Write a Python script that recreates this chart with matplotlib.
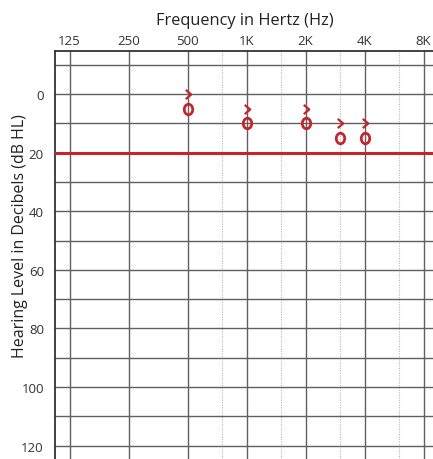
import numpy as np
import matplotlib
matplotlib.use("Agg")
import matplotlib.pyplot as plt
from matplotlib.path import Path
from matplotlib.transforms import Affine2D

# Audiogram data
tick_freqs = [125, 250, 500, 1000, 2000, 4000, 8000]
tick_labels = ["125", "250", "500", "1K", "2K", "4K", "8K"]
mid_freqs = [750, 1500, 3000, 6000]
db_ticks = [0, 20, 40, 60, 80, 100, 120]

air_freqs = [500, 1000, 2000, 3000, 4000]
air_db = [5, 10, 10, 15, 15]          # "O" symbols
bone_freqs = [500, 1000, 2000, 3000, 4000]
bone_db = [0, 5, 5, 10, 10]           # ">" symbols
normal_limit = 20

RED = "#c1272d"
GRID = "#606060"

plt.rcParams["font.family"] = ["Open Sans", "DejaVu Sans"]

W, H = 433, 460
fig = plt.figure(figsize=(W / 100, H / 100), dpi=100)
left, top = 55, 52
ax = fig.add_axes([left / W, 0, 1 - left / W, 1 - top / H])

ax.set_xscale("log", base=2)
oct_px = 59.0
x125 = 69.5
lo = np.log2(125) - (x125 - left) / oct_px
hi = np.log2(125) + (W - x125) / oct_px
ax.set_xlim(2 ** lo, 2 ** hi)

px_per_db = 2.93
y0 = 95
ax.set_ylim((H - y0) / px_per_db, -(y0 - top) / px_per_db)

# grid
for f in tick_freqs:
    ax.axvline(f, color=GRID, lw=1.0, zorder=1)
for f in mid_freqs:
    ax.axvline(f, color="#b8b8b8", lw=0.8, ls=(0, (1, 1.2)), zorder=1)
for d in range(-10, 130, 10):
    ax.axhline(d, color=GRID, lw=1.0, zorder=1)

ax.axhline(normal_limit, color=RED, lw=2.2, zorder=3)

# audiogram symbols
o_marker = Path.unit_circle().transformed(Affine2D().scale(0.8, 1.0))
chevron = Path([(-0.6, 1.0), (0.6, 0.0), (-0.6, -1.0)],
               [Path.MOVETO, Path.LINETO, Path.LINETO])
ax.plot(air_freqs, air_db, ls="none", marker=o_marker, ms=7.6,
        mfc="none", mec=RED, mew=2.0, zorder=4)
ax.plot(bone_freqs, bone_db, ls="none", marker=chevron, ms=6.6,
        mfc="none", mec=RED, mew=1.6, zorder=4)

ax.set_xticks(tick_freqs)
ax.set_xticklabels(tick_labels)
ax.xaxis.set_minor_locator(matplotlib.ticker.NullLocator())
ax.xaxis.tick_top()
ax.set_yticks(db_ticks)
ax.tick_params(axis="both", length=0, labelsize=9.5, colors="#333333")
ax.tick_params(axis="x", pad=3)
ax.tick_params(axis="y", pad=8)

for s in ["right", "bottom"]:
    ax.spines[s].set_visible(False)
ax.spines["top"].set_color("#333333")
ax.spines["top"].set_linewidth(1.3)
ax.spines["left"].set_color("#333333")
ax.spines["left"].set_linewidth(1.3)

fig.text(245 / W, 1 - 21 / H, "Frequency in Hertz (Hz)", ha="center", va="center",
         fontsize=11.8, color="#222222")
fig.text(20 / W, 1 - 236 / H, "Hearing Level in Decibels (dB HL)", ha="center",
         va="center", rotation=90, fontsize=11.5, color="#222222")

fig.savefig("out.png", dpi=100)
